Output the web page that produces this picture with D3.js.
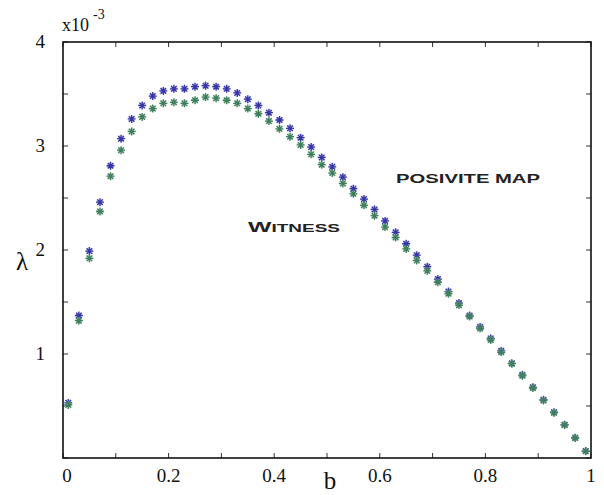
<!DOCTYPE html>
<html>
<head>
<meta charset="utf-8">
<script src="https://cdn.jsdelivr.net/npm/d3@7"></script>
</head>
<body style="margin:0">
<svg width="604" height="495"></svg>
<script>
// b values: 0.01, 0.03, ... 0.99
const bValues = [0.01, 0.03, 0.05, 0.07, 0.09, 0.11, 0.13, 0.15, 0.17, 0.19,
  0.21, 0.23, 0.25, 0.27, 0.29, 0.31, 0.33, 0.35, 0.37, 0.39,
  0.41, 0.43, 0.45, 0.47, 0.49, 0.51, 0.53, 0.55, 0.57, 0.59,
  0.61, 0.63, 0.65, 0.67, 0.69, 0.71, 0.73, 0.75, 0.77, 0.79,
  0.81, 0.83, 0.85, 0.87, 0.89, 0.91, 0.93, 0.95, 0.97, 0.99];

// positive map (blue), in units of 1e-3
const positiveMap = [0.53, 1.37, 1.99, 2.46, 2.81, 3.07, 3.26, 3.39, 3.48, 3.53,
  3.55, 3.55, 3.57, 3.58, 3.57, 3.55, 3.51, 3.45, 3.39, 3.32,
  3.25, 3.17, 3.08, 2.99, 2.89, 2.80, 2.70, 2.59, 2.49, 2.39,
  2.28, 2.17, 2.06, 1.95, 1.84, 1.72, 1.60, 1.49, 1.37, 1.26,
  1.15, 1.03, 0.91, 0.80, 0.68, 0.56, 0.44, 0.32, 0.195, 0.067];

// witness (green), in units of 1e-3
const witness = [0.51, 1.32, 1.92, 2.37, 2.71, 2.96, 3.14, 3.28, 3.36, 3.41,
  3.42, 3.41, 3.44, 3.47, 3.46, 3.44, 3.41, 3.36, 3.31, 3.24,
  3.165, 3.09, 3.01, 2.92, 2.82, 2.74, 2.64, 2.54, 2.43, 2.33,
  2.22, 2.12, 2.01, 1.90, 1.80, 1.69, 1.58, 1.47, 1.36, 1.245,
  1.135, 1.016, 0.907, 0.79, 0.673, 0.554, 0.436, 0.317, 0.192, 0.064];

const xTicks = [0, 0.1, 0.2, 0.3, 0.4, 0.5, 0.6, 0.7, 0.8, 0.9, 1];
const xTickLabels = [0, 0.2, 0.4, 0.6, 0.8, 1];
const yTicks = [0, 0.5, 1, 1.5, 2, 2.5, 3, 3.5, 4];
const yTickLabels = [1, 2, 3, 4];

const svg = d3.select("svg");
const pLeft = 63, pRight = 591, pTop = 42, pBottom = 458;

const x = d3.scaleLinear().domain([0, 1]).range([pLeft, pRight]);
const y = d3.scaleLinear().domain([0, 4]).range([pBottom, pTop]);

const serifFont = "'Liberation Serif'";
const sansFont = "'Liberation Sans'";

// ticks (inward on all four sides)
const tickLen = 5;
const ticks = svg.append("g").attr("stroke", "#333").attr("stroke-width", 1);
xTicks.forEach((t) => {
  ticks.append("line").attr("x1", x(t)).attr("x2", x(t))
    .attr("y1", pBottom).attr("y2", pBottom - tickLen);
  ticks.append("line").attr("x1", x(t)).attr("x2", x(t))
    .attr("y1", pTop).attr("y2", pTop + tickLen);
});
yTicks.forEach((t) => {
  ticks.append("line").attr("x1", pLeft).attr("x2", pLeft + tickLen)
    .attr("y1", y(t)).attr("y2", y(t));
  ticks.append("line").attr("x1", pRight).attr("x2", pRight - tickLen)
    .attr("y1", y(t)).attr("y2", y(t));
});

// frame
svg.append("rect")
  .attr("x", pLeft).attr("y", pTop)
  .attr("width", pRight - pLeft).attr("height", pBottom - pTop)
  .attr("fill", "none").attr("stroke", "#111").attr("stroke-width", 1.6);

// tick labels
svg.append("g").selectAll("text").data(xTickLabels).enter().append("text")
  .style("font-family", serifFont)
  .attr("x", (d) => x(d) + (d === 0 ? 4 : 0))
  .attr("y", 482)
  .attr("text-anchor", "middle")
  .attr("font-size", 19).attr("fill", "#111")
  .text((d) => String(d));

svg.append("g").selectAll("text").data(yTickLabels).enter().append("text")
  .style("font-family", serifFont)
  .attr("x", 45)
  .attr("y", (d) => y(d) + 6)
  .attr("text-anchor", "end")
  .attr("font-size", 19).attr("fill", "#111")
  .text((d) => String(d));

// exponent
svg.append("text").style("font-family", serifFont)
  .attr("x", 62).attr("y", 31).attr("font-size", 18).attr("fill", "#111")
  .text("x10");
svg.append("text").style("font-family", serifFont)
  .attr("x", 93).attr("y", 19).attr("font-size", 14).attr("fill", "#111")
  .text("-3");

// axis titles
svg.append("text").style("font-family", serifFont)
  .attr("x", 330).attr("y", 489)
  .attr("text-anchor", "middle")
  .attr("font-size", 25).attr("fill", "#111")
  .text("b");
svg.append("text").style("font-family", serifFont)
  .attr("x", 22).attr("y", 270)
  .attr("text-anchor", "middle")
  .attr("font-size", 25).attr("fill", "#111")
  .text("λ");

// annotations
svg.append("text").style("font-family", sansFont).attr("x", 396).attr("y", 183)
  .attr("font-weight", "bold")
  .attr("font-size", 12.5).attr("fill", "#222")
  .attr("textLength", 144).attr("lengthAdjust", "spacingAndGlyphs")
  .text("POSIVITE MAP");
const wt = svg.append("text").style("font-family", sansFont).attr("x", 248).attr("y", 232)
  .attr("font-weight", "bold")
  .attr("fill", "#222")
  .attr("textLength", 92).attr("lengthAdjust", "spacingAndGlyphs");
wt.append("tspan").attr("font-size", 15).text("W");
wt.append("tspan").attr("font-size", 11.5).text("ITNESS");

// asterisk markers
const star = "M-4,0H4M0,-4V4M-2.8,-2.8L2.8,2.8M-2.8,2.8L2.8,-2.8";

const drawSeries = (values, color, halo) => {
  const g = svg.append("g");
  const pts = g.selectAll("g").data(values).enter().append("g")
    .attr("transform", (d, i) => "translate(" + x(bValues[i]) + "," + y(d) + ")");
  pts.append("circle").attr("r", 3.6).attr("fill", halo).attr("opacity", 0.45);
  pts.append("path").attr("d", star).attr("stroke", color)
    .attr("stroke-width", 1.3).attr("fill", "none");
};

drawSeries(positiveMap, "#3636a8", "#9c9cd6");
drawSeries(witness, "#3e7f5c", "#9cc4ac");
</script>
</body>
</html>
